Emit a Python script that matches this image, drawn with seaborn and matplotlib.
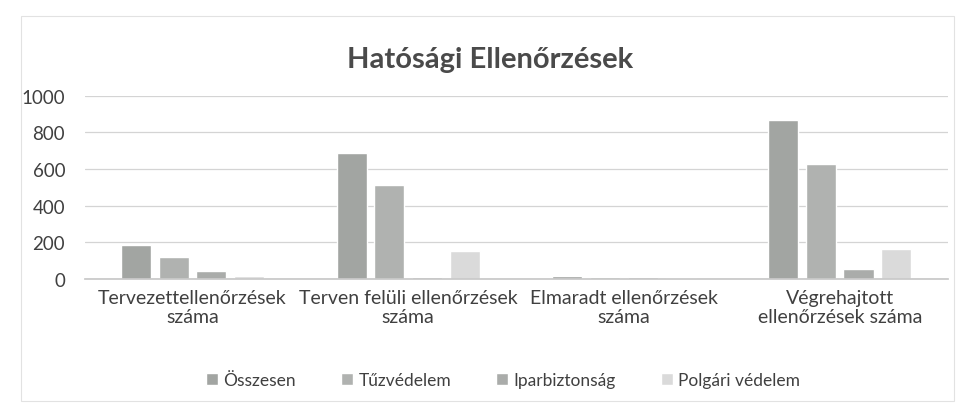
import matplotlib
matplotlib.use("Agg")
import matplotlib.pyplot as plt
import pandas as pd
import seaborn as sns

categories = [
    "Tervezettellenőrzések\nszáma",
    "Terven felüli ellenőrzések\nszáma",
    "Elmaradt ellenőrzések\nszáma",
    "Végrehajtott\nellenőrzések száma",
]
series = ["Összesen", "Tűzvédelem", "Iparbiztonság", "Polgári védelem"]
osszesen = [185, 690, 14, 870]
tuzvedelem = [118, 515, 12, 630]
iparbiztonsag = [42, 10, 10, 52]
polgari = [18, 150, 3, 165]
colors = ["#a2a5a2", "#b0b2b0", "#aaacaa", "#dadada"]

rows = []
for name, vals in zip(series, [osszesen, tuzvedelem, iparbiztonsag, polgari]):
    for cat, v in zip(categories, vals):
        rows.append({"cat": cat, "series": name, "value": v})
df = pd.DataFrame(rows)

sns.set_theme(style="white")
plt.rcParams["font.family"] = ["Lato", "DejaVu Sans"]

fig = plt.figure(figsize=(9.62, 4.14), dpi=100)
ax = fig.add_axes([0.088, 0.324, 0.897, 0.442])

sns.barplot(data=df, x="cat", y="value", hue="series", order=categories,
            hue_order=series, palette=colors, width=0.7, gap=0.2,
            saturation=1, ax=ax)

ax.set_ylim(0, 1000)
ax.set_yticks(range(0, 1001, 200))
ax.yaxis.grid(True, color="#d4d4d4", linewidth=0.9)
ax.set_axisbelow(True)
for s in ["left", "right", "top"]:
    ax.spines[s].set_visible(False)
ax.spines["bottom"].set_color("#c8c8c8")
ax.tick_params(axis="y", length=0, labelsize=13.5, labelcolor="#404040", pad=14)
ax.tick_params(axis="x", length=0, labelsize=14, labelcolor="#404040", pad=7)
ax.set_xlabel("")
ax.set_ylabel("")

fig.text(0.51, 0.855, "Hatósági Ellenőrzések", ha="center", va="center",
         fontsize=21, fontweight="bold", color="#4a4a4a")

handles, labels = ax.get_legend_handles_labels()
ax.legend(handles, labels, loc="center", bbox_to_anchor=(0.523, 0.08),
          bbox_transform=fig.transFigure, ncol=4, frameon=False,
          fontsize=12.5, handlelength=0.7, handleheight=0.7, columnspacing=2.6,
          handletextpad=0.3, labelcolor="#404040")

fig.patches.append(plt.Rectangle((0.022, 0.03), 0.97, 0.93, fill=False,
                                 edgecolor="#e2e2e2", linewidth=0.8,
                                 transform=fig.transFigure))

fig.savefig("out.png", dpi=100)
